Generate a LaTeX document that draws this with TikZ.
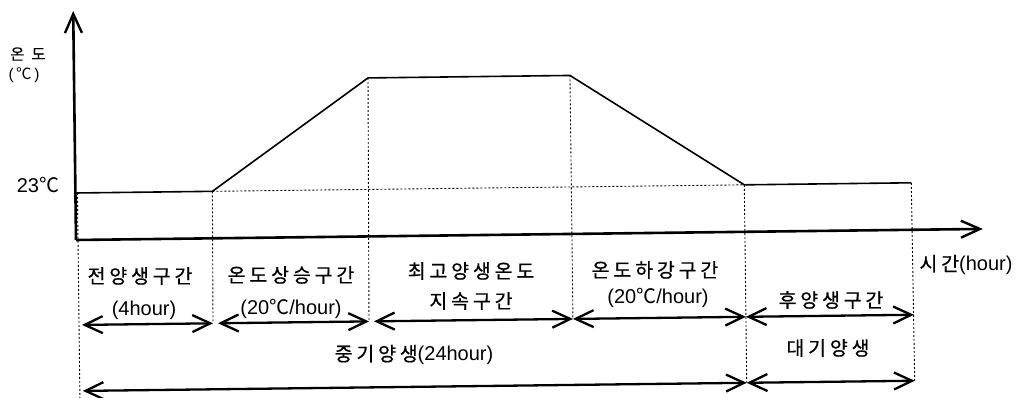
\documentclass[tikz,border=0pt]{standalone}
\usepackage{fontspec}
\setmainfont{Liberation Sans}
\newfontfamily\kr[Scale=0.97,LetterSpace=20,FakeBold=0.7]{Noto Sans CJK KR}
\newfontfamily\krw[LetterSpace=45,FakeBold=0.5]{Noto Sans CJK KR}
\newfontfamily\krn{Noto Sans CJK KR}
\usetikzlibrary{arrows.meta}
\tikzset{
  axisline/.style={line width=2.6pt, line cap=butt,
    -{Straight Barb[length=19pt,width=17pt,line width=2.4pt]}},
  curveline/.style={line width=1.6pt, line join=miter},
  guide/.style={line width=0.9pt, dash pattern=on 2pt off 2pt},
  spanarrow/.style={line width=2.3pt,
    {Straight Barb[length=18pt,width=17pt]}-{Straight Barb[length=18pt,width=17pt]}},
  lbl/.style={inner sep=0pt, font=\fontsize{20}{24}\selectfont},
  small/.style={inner sep=0pt, font=\fontsize{15.5}{18}\selectfont},
}
\newcommand{\dc}{{\krn ℃}}
\begin{document}
\begin{tikzpicture}[x=1pt,y=-1pt]
\useasboundingbox (0,0) rectangle (1020,397);
\begin{scope}[rotate around={0.7:(76,240)}]
  % key points
  \coordinate (O) at (76,240);
  \coordinate (Ytop) at (76,11);
  \coordinate (Xend) at (983,240);
  \coordinate (L0) at (76,193);
  \coordinate (P1) at (213,193);
  \coordinate (P2) at (370,81.5);
  \coordinate (P3) at (572,81.5);
  \coordinate (P4) at (745,193);
  \coordinate (P5) at (912,193);
  \coordinate (G0) at (78,193);
  \coordinate (G0b) at (78,402);
  \coordinate (R0) at (81,325);
  \coordinate (R1) at (212,325);
  \coordinate (R1b) at (217,325);
  \coordinate (R2) at (368,325);
  \coordinate (R2b) at (373,325);
  \coordinate (R3) at (572,325);
  \coordinate (R4) at (745,325);
  \coordinate (R5) at (913,325);
  \coordinate (S0) at (81,391);
  \coordinate (S4) at (745,391);
  \coordinate (S5) at (913,391);
  % guides
  \draw[guide] (G0) -- (G0b);
  \draw[guide] (P1) -- (R1);
  \draw[guide] (P2) -- (R2);
  \draw[guide] (P3) -- (R3);
  \draw[guide] (P4) -- (S4);
  \draw[guide] (P5) -- (S5);
  \draw[guide] (P1) -- (P4);
  % axes
  \draw[axisline] (O) -- (Ytop);
  \draw[axisline] (O) -- (Xend);
  % temperature curve
  \draw[curveline] (L0) -- (P1) -- (P2) -- (P3) -- (P4) -- (P5);
  % span arrows
  \draw[spanarrow] (R0) -- (R1);
  \draw[spanarrow] (R1b) -- (R2);
  \draw[spanarrow] (R2b) -- (R3);
  \draw[spanarrow] (R3) -- (R4);
  \draw[spanarrow] (R4) -- (R5);
  \draw[spanarrow] (S0) -- (S4);
  \draw[spanarrow] (S4) -- (S5);
\end{scope}
% labels
\node[small] (tondo) at (28,54) {\krw 온도};
\node[small] (tunit) at (24,75) {(\,\dc\,)};
\node[lbl] (t23) at (38,185) {23\dc};
\node[lbl] (ttime) at (966,265) {{\kr 시간}(hour)};
\node[lbl] (a1) at (140,276) {\kr 전양생구간};
\node[lbl] (b1) at (144,310) {(4hour)};
\node[lbl] (a2) at (291,275) {\kr 온도상승구간};
\node[lbl] (b2) at (291,309) {(20\dc/hour)};
\node[lbl] (a3) at (471,271) {\kr 최고양생온도};
\node[lbl] (b3) at (471,301) {\kr 지속구간};
\node[lbl] (a4) at (655,270) {\kr 온도하강구간};
\node[lbl] (b4) at (658,298) {(20\dc/hour)};
\node[lbl] (a5) at (831,300) {\kr 후양생구간};
\node[lbl] (c1) at (414,355) {{\kr 중기양생}(24hour)};
\node[lbl] (c2) at (828,348) {\kr 대기양생};
\end{tikzpicture}
\end{document}
